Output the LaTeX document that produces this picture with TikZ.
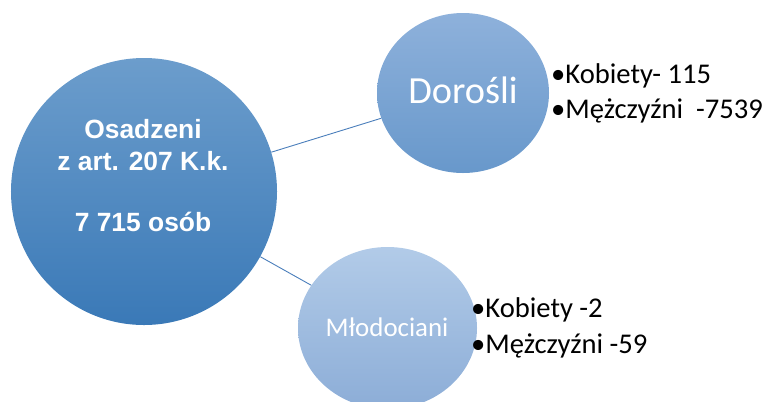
\documentclass[tikz,border=0pt]{standalone}
\usepackage{fontspec}
\usetikzlibrary{shapes.geometric}
\setmainfont{Carlito}
\newfontfamily\arialf{Liberation Sans}
\definecolor{bigT}{RGB}{108,157,204}
\definecolor{bigB}{RGB}{58,121,183}
\definecolor{dorT}{RGB}{142,177,219}
\definecolor{dorB}{RGB}{104,152,203}
\definecolor{mloT}{RGB}{178,203,232}
\definecolor{mloB}{RGB}{140,173,215}
\definecolor{linec}{RGB}{74,126,187}
\begin{document}
\begin{tikzpicture}[x=1bp,y=-1bp,
  ball/.style={ellipse, inner sep=0pt},
  conn/.style={draw=linec, line width=0.9bp},
  bigtxt/.style={anchor=base, text=white, inner sep=0pt, font=\arialf\bfseries\fontsize{26.5}{31}\selectfont},
  item/.style={anchor=base west, inner sep=0pt, text=black, font=\fontsize{28.7}{34}\selectfont}]
\useasboundingbox (0,0) rectangle (772,401);
\node[ball, minimum width=266bp, minimum height=267bp, top color=bigT, bottom color=bigB] (big) at (144,191.5) {};
\node[ball, minimum width=172bp, minimum height=160bp, top color=dorT, bottom color=dorB] (dor) at (463,93) {};
\node[ball, minimum width=179bp, minimum height=162bp, top color=mloT, bottom color=mloB] (mlo) at (387.5,328) {};
\draw[conn] (big) -- (dor);
\draw[conn] (big) -- (mlo);
\node[bigtxt] (t1) at (143,138) {Osadzeni};
\node[bigtxt] (t2) at (143,170) {z art. 207 K.k.};
\node[bigtxt] (t3) at (143,231) {7 715 osób};
\node[anchor=base, inner sep=0pt, text=white, font=\fontsize{38.5}{42}\selectfont] (dortxt) at (463,103) {Dorośli};
\node[anchor=base, inner sep=0pt, text=white, font=\fontsize{27}{30}\selectfont] (mlotxt) at (387,336) {Młodociani};
\node[item] (d1) at (551,83) {•Kobiety- 115};
\node[item] (d2) at (551,118) {•Mężczyźni~ -7539};
\node[item] (m1) at (471,317) {•Kobiety -2};
\node[item] (m2) at (471,353) {•Mężczyźni -59};
\end{tikzpicture}
\end{document}
